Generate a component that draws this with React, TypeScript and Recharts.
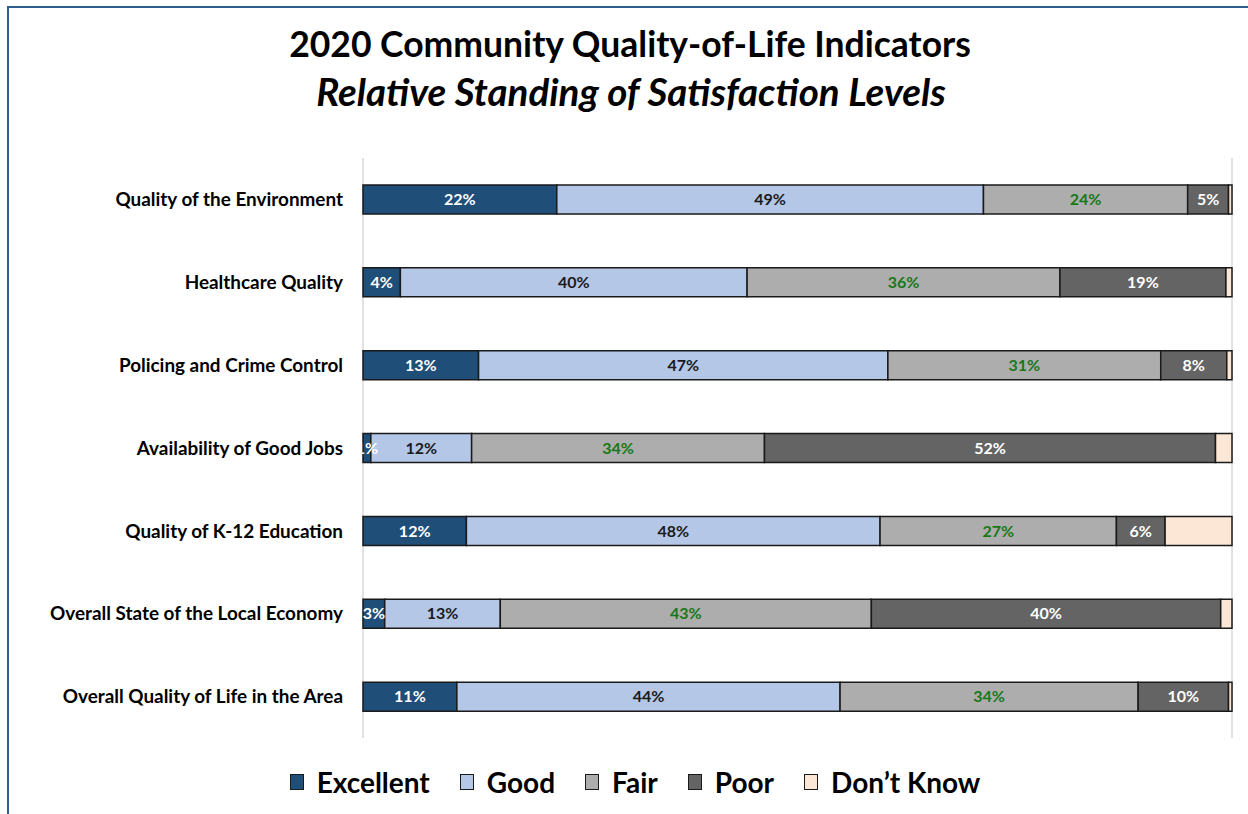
import React from 'react'
import { BarChart, Bar, XAxis, YAxis, CartesianGrid, LabelList } from 'recharts'

const categories = [
  'Quality of the Environment',
  'Healthcare Quality',
  'Policing and Crime Control',
  'Availability of Good Jobs',
  'Quality of K-12 Education',
  'Overall State of the Local Economy',
  'Overall Quality of Life in the Area',
]

const excellent = [22.3, 4.3, 13.3, 0.9, 11.9, 2.5, 10.8]
const good = [49.1, 39.9, 47.1, 11.6, 47.6, 13.3, 44.1]
const fair = [23.5, 36.0, 31.4, 33.7, 27.2, 42.7, 34.3]
const poor = [4.7, 19.1, 7.6, 51.9, 5.6, 40.2, 10.4]
const dontKnow = [0.4, 0.7, 0.6, 1.9, 7.7, 1.3, 0.4]

const gridTicks = [0, 10, 20, 30, 40, 50, 60, 70, 80, 90, 100]

const series = [
  { key: 'excellent', name: 'Excellent', color: '#1f4e79', label: '#ffffff' },
  { key: 'good', name: 'Good', color: '#b4c7e7', label: '#1a1a1a' },
  { key: 'fair', name: 'Fair', color: '#adadad', label: '#187818' },
  { key: 'poor', name: 'Poor', color: '#646464', label: '#ffffff' },
  { key: 'dontKnow', name: 'Don\u2019t Know', color: '#fce6d6', label: null },
]

const data = categories.map((name, i) => ({
  name,
  excellent: excellent[i],
  good: good[i],
  fair: fair[i],
  poor: poor[i],
  dontKnow: dontKnow[i],
}))

const FONT = 'Lato, "Noto Sans", sans-serif'

const pct = (v: unknown) => `${Math.round(Number(v))}%`

export default function App() {
  return (
    <div
      style={{
        position: 'absolute',
        left: 0,
        top: 0,
        width: 1248,
        height: 814,
        background: '#fff',
        overflow: 'hidden',
        fontFamily: FONT,
      }}
    >
      <div
        style={{
          position: 'absolute',
          left: 7,
          top: 6,
          width: 1260,
          height: 830,
          border: '2px solid #2f5d8c',
        }}
      />
      <div
        style={{
          position: 'absolute',
          top: 23,
          left: 0,
          width: 1260,
          textAlign: 'center',
          fontSize: 35.5,
          fontWeight: 700,
          color: '#000',
          lineHeight: 1.2,
        }}
      >
        2020 Community Quality-of-Life Indicators
      </div>
      <div
        style={{
          position: 'absolute',
          top: 68,
          left: 0,
          width: 1262,
          textAlign: 'center',
          fontSize: 38.5,
          fontWeight: 700,
          fontStyle: 'italic',
          color: '#000',
          lineHeight: 1.2,
        }}
      >
        Relative Standing of Satisfaction Levels
      </div>
      <BarChart
        width={1248}
        height={814}
        data={data}
        layout="vertical"
        margin={{ top: 158, right: 16, bottom: 76, left: 0 }}
        barSize={29}
        style={{ position: 'absolute', left: 0, top: 0 }}
      >
        <CartesianGrid horizontal={false} stroke="#d9d9d9" strokeWidth={1.5} />
        <XAxis
          type="number"
          domain={[0, 100]}
          ticks={gridTicks}
          tick={false}
          axisLine={false}
          tickLine={false}
          height={0}
        />
        <YAxis
          type="category"
          dataKey="name"
          width={363}
          axisLine={false}
          tickLine={false}
          tickSize={0}
          tickMargin={20}
          tick={{ fill: '#000', fontSize: 18.9, fontWeight: 700, fontFamily: FONT }}
        />
        {series.map((s) => (
          <Bar
            key={s.key}
            dataKey={s.key}
            name={s.name}
            stackId="a"
            fill={s.color}
            stroke="#1a1a1a"
            strokeWidth={1.5}
            isAnimationActive={false}
          >
            {s.label && (
              <LabelList
                dataKey={s.key}
                position="center"
                formatter={pct}
                fill={s.label}
                style={{ fontSize: 16, fontWeight: 700, fontFamily: FONT }}
              />
            )}
          </Bar>
        ))}
      </BarChart>
      <div
        style={{
          position: 'absolute',
          top: 765,
          left: 0,
          width: 1270,
          display: 'flex',
          justifyContent: 'center',
          alignItems: 'center',
          gap: 30,
          fontSize: 28,
          fontWeight: 700,
          color: '#000',
        }}
      >
        {series.map((s) => (
          <div key={s.key} style={{ display: 'flex', alignItems: 'center' }}>
            <span
              style={{
                display: 'inline-block',
                width: 12,
                height: 14,
                background: s.color,
                border: '1.5px solid #1a1a1a',
                marginRight: 13,
              }}
            />
            <span>{s.name}</span>
          </div>
        ))}
      </div>
    </div>
  )
}
